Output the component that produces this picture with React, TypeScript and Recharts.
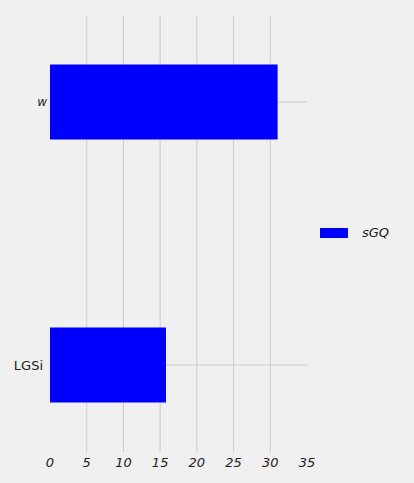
import { BarChart, Bar, XAxis, YAxis, CartesianGrid } from "recharts";

const categories = ["w", "LGSi"];
const values = [31, 15.8];
const seriesName = "sGQ";
const xTicks = [0, 5, 10, 15, 20, 25, 30, 35];

const data = categories.map((name, i) => ({ name, pos: i, value: values[i] }));

const FONT = "DejaVu Sans, Verdana, sans-serif";

const YTick = (props: any) => {
  const { x, y, payload } = props;
  const label = categories[payload.value] ?? "";
  const small = label === "w";
  return (
    <text
      x={small ? x + 4 : x}
      y={y}
      dy="0.355em"
      textAnchor="end"
      fill="#222"
      fontFamily={FONT}
      fontSize={small ? 12 : 13}
      fontStyle={small ? "italic" : "normal"}
    >
      {label}
    </text>
  );
};

// matplotlib-style grid: no lines on the plot edges
const gridLine = (p: any) => {
  const { x1, y1, x2, y2 } = p;
  const near = (a: number, b: number) => Math.abs(a - b) < 0.5;
  const onEdge =
    x1 === x2
      ? near(x1, p.x) || near(x1, p.x + p.width)
      : near(y1, p.y) || near(y1, p.y + p.height);
  if (onEdge) return <g key={p.key} />;
  return (
    <line key={p.key} x1={x1} y1={y1} x2={x2} y2={y2} stroke="#cbcbcb" strokeWidth={1} />
  );
};

export default function App() {
  return (
    <div
      style={{
        position: "absolute",
        left: 0,
        top: 0,
        width: 414,
        height: 483,
        background: "#f0f0f0",
      }}
    >
      <BarChart
        width={414}
        height={483}
        data={data}
        layout="vertical"
        margin={{ top: 16, right: 107, bottom: 0, left: 0 }}
      >
        <CartesianGrid vertical={gridLine} horizontal={gridLine} />
        <XAxis
          type="number"
          dataKey="value"
          domain={[0, 35]}
          ticks={xTicks}
          interval={0}
          height={31}
          tickLine={false}
          axisLine={false}
          tickMargin={0}
          tick={{ fill: "#222", fontSize: 13, fontStyle: "italic", fontFamily: FONT }}
        />
        <YAxis
          type="number"
          dataKey="pos"
          domain={[-0.327, 1.331]}
          ticks={[0, 1]}
          width={50}
          tickLine={false}
          axisLine={false}
          tickMargin={1}
          tick={<YTick />}
          allowDataOverflow
        />
        <Bar
          dataKey="value"
          name={seriesName}
          fill="#0000ff"
          barSize={75}
          isAnimationActive={false}
        />
      </BarChart>
      <div
        style={{
          position: "absolute",
          left: 320,
          top: 225,
          display: "flex",
          alignItems: "center",
          fontFamily: FONT,
          fontSize: 13,
          fontStyle: "italic",
          color: "#222",
        }}
      >
        <span
          style={{ display: "inline-block", width: 28, height: 10, background: "#0000ff", marginRight: 14 }}
        />
        <span>{seriesName}</span>
      </div>
    </div>
  );
}
